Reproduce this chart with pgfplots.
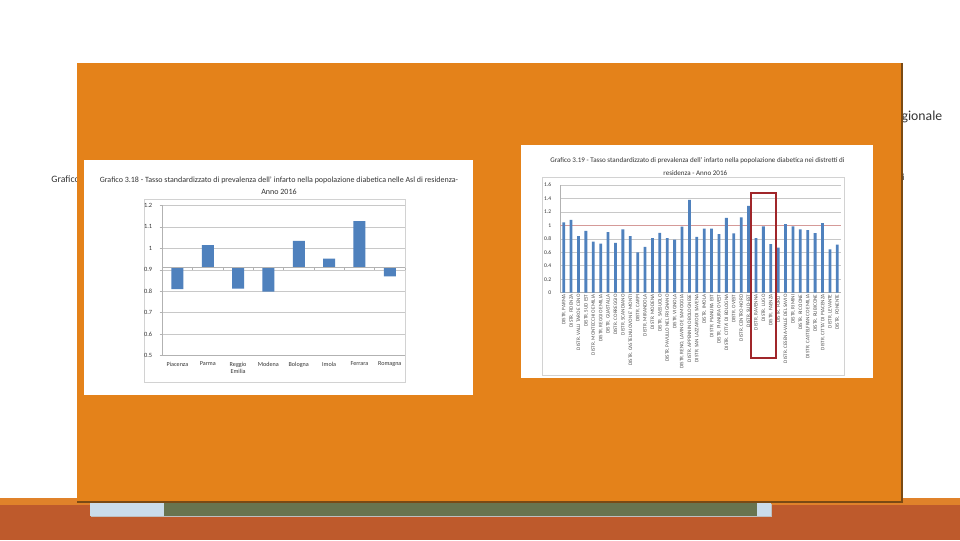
\documentclass[border=0pt]{standalone}
\usepackage{pgfplots}
\usepackage{pgfplotstable}
\pgfplotsset{compat=1.18}
\usepackage{fontspec}
\setmainfont{Carlito}
\definecolor{boxorange}{HTML}{E4821A}
\definecolor{boxedge}{HTML}{7A4A14}
\definecolor{stripor}{HTML}{E0822A}
\definecolor{bandbrown}{HTML}{BE5A2C}
\definecolor{lightblue}{HTML}{CADCEA}
\definecolor{greengray}{HTML}{68744F}
\definecolor{barblue}{HTML}{4F81BD}
\definecolor{gridgray}{HTML}{C8C8C8}
\definecolor{redgrid}{HTML}{D59A98}
\definecolor{boxred}{HTML}{A0262A}
\definecolor{txt}{HTML}{333333}

\pgfplotstableread{
x v
0 0.810
1 1.015
2 0.812
3 0.798
4 1.035
5 0.952
6 1.127
7 0.869
}\asltable

\pgfplotstableread{
x v
0 1.045
1 1.08
2 0.84
3 0.92
4 0.76
5 0.73
6 0.90
7 0.74
8 0.94
9 0.84
10 0.60
11 0.68
12 0.81
13 0.89
14 0.81
15 0.79
16 0.98
17 1.38
18 0.83
19 0.95
20 0.95
21 0.87
22 1.11
23 0.88
24 1.12
25 1.29
26 0.81
27 0.985
28 0.72
29 0.67
30 1.02
31 0.985
32 0.94
33 0.93
34 0.885
35 1.035
36 0.645
37 0.715
}\distrtable

\begin{document}
\begin{tikzpicture}
\begin{scope}[x=1pt,y=1pt]
\path[fill=white] (0,0) rectangle (720,405);
% bottom band
\fill[stripor] (0,0) rectangle (720,31.5);
\fill[bandbrown] (0,0) rectangle (720,26.25);
\fill[gray!50] (68.5,17.2) rectangle (579,27);
\fill[lightblue] (67.5,18) rectangle (578.25,28.5);
\fill[greengray] (123,18) rectangle (567.75,28.5);
% text outside the box
\node[anchor=base east, inner sep=0pt, text=txt, font=\fontsize{7.3}{8}\selectfont] at (60,267.75) {Grafico};
\node[anchor=base west, inner sep=0pt, text=txt, font=\fontsize{10.3}{12}\selectfont] at (676,314.25) {gionale};
\node[anchor=base west, inner sep=0pt, text=txt, font=\fontsize{7}{8}\selectfont] at (676.5,269.25) {i};
% orange box
\fill[boxorange] (57.75,28.5) rectangle (676.5,357.75);
\draw[boxedge, line width=0.8pt] (57.75,28.5) -- (676.5,28.5) -- (676.5,357.75);
% white panels
\fill[white] (63,108.75) rectangle (354.75,285);
\fill[white] (390.75,121.5) rectangle (654.75,296.25);
% chart area borders
\draw[gray!35, line width=0.4pt] (108,118) rectangle (304.3,255.5);
\draw[gray!35, line width=0.4pt] (407,123.75) rectangle (633,272);
% titles
\node[text=txt, font=\fontsize{6}{7}\selectfont, inner sep=0pt] at (209.25,270) {Grafico 3.18 - Tasso standardizzato di prevalenza dell' infarto nella popolazione diabetica nelle Asl di residenza-};
\node[text=txt, font=\fontsize{6}{7}\selectfont, inner sep=0pt] at (209.25,261.5) {Anno 2016};
\node[text=txt, font=\fontsize{5.3}{6}\selectfont, inner sep=0pt] at (523.1,284.5) {Grafico 3.19 - Tasso standardizzato di prevalenza dell' infarto nella popolazione diabetica nei distretti di};
\node[text=txt, font=\fontsize{5.3}{6}\selectfont, inner sep=0pt] at (521.5,275) {residenza - Anno 2016};
\end{scope}

% left chart
\begin{axis}[
  at={(121.7pt,138.2pt)}, anchor=south west,
  scale only axis, width=182pt, height=112.8pt,
  xmin=-0.5, xmax=7.5, ymin=-0.41, ymax=0.29,
  axis x line*=bottom, axis y line*=left,
  axis line style={gray!60, line width=0.4pt},
  ymajorgrids, major grid style={gridgray, line width=0.4pt},
  ytick={-0.41,-0.31,-0.21,-0.11,-0.01,0.09,0.19,0.29},
  yticklabels={0.5,0.6,0.7,0.8,0.9,1,1.1,1.2},
  yticklabel style={font=\fontsize{4.8}{5}\selectfont, text=txt, xshift=-2pt},
  ytick style={gray!60, line width=0.4pt}, tick align=outside, major tick length=2pt,
  xtick={0,...,7},
  xticklabels={Piacenza,Parma,{Reggio\\Emilia},Modena,Bologna,Imola,Ferrara,Romagna},
  xticklabel style={align=center, font=\fontsize{4.6}{5.8}\selectfont, text=txt, inner sep=1pt, yshift=-1.5pt},
  xtick style={draw=none},
  clip=false,
]
\addplot[ybar, bar width=9pt, fill=barblue, draw=none] table[x=x, y expr=\thisrow{v}-0.91] {\asltable};
\draw[gray!60, line width=0.4pt] (axis cs:-0.5,0) -- (axis cs:7.5,0);
\pgfplotsinvokeforeach{0.5,1.5,2.5,3.5,4.5,5.5,6.5,7.5}{\draw[gray!60, line width=0.4pt] (axis cs:#1,0) -- ([yshift=-1.5pt]axis cs:#1,0);}
\end{axis}

% right chart
\begin{axis}[
  at={(420pt,185.5pt)}, anchor=south west,
  scale only axis, width=210.75pt, height=80.75pt,
  xmin=-0.5, xmax=37.5, ymin=0, ymax=1.6,
  axis x line*=bottom, axis y line*=left,
  axis line style={gray!60, line width=0.4pt},
  ymajorgrids, major grid style={gridgray, line width=0.4pt},
  ytick={0,0.2,0.4,0.6,0.8,1.2,1.4,1.6},
  yticklabels={0,0.2,0.4,0.6,0.8,1.2,1.4,1.6},
  extra y ticks={1}, extra y tick labels={1},
  extra y tick style={major grid style={redgrid, line width=0.6pt}},
  yticklabel style={font=\fontsize{4.2}{4.5}\selectfont, text=txt, xshift=-3pt},
  ytick style={draw=none},
  xtick={0,...,37},
  xtick style={draw=none},
  xticklabels={DISTR. PARMA,DISTR. FIDENZA,DISTR. VALLI TARO E CENO,DISTR. SUD EST,DISTR. MONTECCHIO EMILIA,DISTR. REGGIO EMILIA,DISTR. GUASTALLA,DISTR. CORREGGIO,DISTR. SCANDIANO,DISTR. CASTELNUOVO NE' MONTI,DISTR. CARPI,DISTR. MIRANDOLA,DISTR. MODENA,DISTR. SASSUOLO,DISTR. PAVULLO NEL FRIGNANO,DISTR. VIGNOLA,{DISTR. RENO, LAVINO E SAMOGGIA},DISTR. APPENNINO BOLOGNESE,DISTR. SAN LAZZARO DI SAVENA,DISTR. IMOLA,DISTR. PIANURA EST,DISTR. PIANURA OVEST,DISTR. CITTA' DI BOLOGNA,DISTR. OVEST,DISTR. CENTRO-NORD,DISTR. SUD-EST,DISTR. RAVENNA,DISTR. LUGO,DISTR. FAENZA,DISTR. FORLI',DISTR. CESENA-VALLE DEL SAVIO,DISTR. RIMINI,DISTR. RICCIONE,DISTR. CASTELFRANCO EMILIA,DISTR. RUBICONE,DISTR. CITTA' DI PIACENZA,DISTR. LEVANTE,DISTR. PONENTE},
  xticklabel style={rotate=90, anchor=east, font=\fontsize{3.9}{4.2}\selectfont, text=txt!85, inner sep=1.2pt},
  clip=false,
]
\addplot[ybar, bar width=2.1pt, fill=barblue, draw=none] table[x=x, y=v] {\distrtable};
\end{axis}
% red highlight box
\begin{scope}[x=1pt,y=1pt]
\draw[boxred, line width=1.3pt] (563.25,136.5) rectangle (582,260.25);
\end{scope}
\end{tikzpicture}
\end{document}
